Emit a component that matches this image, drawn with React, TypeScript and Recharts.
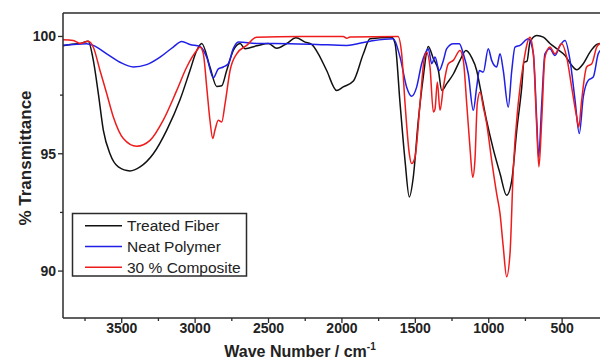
import React from "react"
import { LineChart, Line, XAxis, YAxis, ReferenceLine } from "recharts"

// [wave number, % transmittance]
const treatedFiber: [number, number][] = [
    [3900, 99.6], [3852, 99.66], [3784, 99.7], [3728, 99.8], [3694, 99.0], [3660, 97.6],
    [3625, 96.0], [3580, 95.0], [3523, 94.44], [3444, 94.27], [3375, 94.44], [3285, 95.0],
    [3194, 96.0], [3103, 97.3], [3035, 98.55], [2989, 99.4], [2955, 99.7], [2899, 98.7],
    [2853, 97.87], [2819, 97.9], [2785, 98.55], [2740, 99.4], [2694, 99.7], [2660, 99.48],
    [2580, 99.6], [2501, 99.7], [2444, 99.5], [2376, 99.7], [2313, 99.94], [2251, 99.76],
    [2206, 99.66], [2161, 99.26], [2104, 98.55], [2036, 97.7], [1991, 97.85], [1922, 98.1],
    [1854, 99.26], [1809, 99.9], [1661, 99.97], [1638, 99.7], [1604, 97.15], [1570, 94.7],
    [1541, 93.16], [1514, 94.0], [1480, 96.4], [1446, 98.27], [1412, 99.57], [1377, 99.05],
    [1343, 98.55], [1320, 97.7], [1286, 97.99], [1241, 98.4], [1196, 98.98], [1155, 99.4],
    [1116, 99.1], [1082, 98.55], [1059, 97.84], [1014, 96.4], [969, 95.2], [923, 94.16],
    [878, 93.23], [843, 93.87], [809, 96.0], [775, 97.84], [760, 98.9], [739, 98.95],
    [719, 99.76], [673, 100.04], [628, 99.97], [583, 99.7], [537, 99.48], [480, 99.19],
    [435, 98.77], [401, 98.58], [356, 98.84], [310, 99.33], [264, 99.66], [242, 99.7],
]

const neatPolymer: [number, number][] = [
    [3900, 99.62], [3739, 99.69], [3694, 99.62], [3602, 99.26], [3512, 98.9], [3421, 98.7],
    [3330, 98.8], [3239, 99.12], [3149, 99.55], [3091, 99.79], [3035, 99.66], [2967, 99.57],
    [2921, 99.12], [2876, 98.24], [2842, 98.62], [2808, 98.7], [2774, 98.84], [2740, 99.48],
    [2706, 99.76], [2580, 99.7], [2354, 99.69], [2172, 99.66], [1967, 99.62], [1809, 99.8],
    [1650, 99.9], [1604, 99.12], [1559, 97.84], [1525, 97.45], [1491, 97.84], [1457, 98.84],
    [1434, 99.26], [1412, 99.48], [1388, 98.84], [1366, 99.12], [1337, 98.55], [1309, 98.98],
    [1286, 99.48], [1241, 99.69], [1200, 99.69], [1173, 99.26], [1139, 98.4], [1105, 96.85],
    [1082, 97.84], [1064, 98.55], [1037, 98.48], [1003, 99.48], [980, 98.98], [946, 98.7],
    [923, 99.26], [901, 98.55], [867, 96.99], [843, 98.55], [821, 99.55], [787, 99.62],
    [730, 99.9], [696, 99.26], [673, 96.43], [660, 94.86], [639, 97.14], [617, 99.26],
    [583, 99.48], [549, 99.19], [514, 99.62], [480, 99.83], [446, 98.98], [412, 97.28],
    [383, 95.86], [356, 97.42], [322, 98.13], [288, 98.27], [254, 99.26], [242, 99.4],
]

const composite30: [number, number][] = [
    [3900, 99.86], [3830, 99.83], [3784, 99.7], [3728, 99.8], [3694, 99.55], [3648, 98.55],
    [3602, 97.56], [3557, 96.57], [3489, 95.65], [3398, 95.32], [3307, 95.57], [3217, 96.43],
    [3125, 97.7], [3057, 98.7], [2989, 99.4], [2967, 99.55], [2944, 99.26], [2921, 97.84],
    [2899, 96.43], [2880, 95.65], [2865, 96.0], [2842, 96.43], [2819, 96.35], [2796, 97.14],
    [2762, 98.55], [2717, 99.26], [2649, 99.62], [2580, 99.97], [2286, 100.0], [1991, 100.0],
    [1967, 99.92], [1945, 99.98], [1618, 100.0], [1593, 99.26], [1570, 97.14], [1541, 95.0],
    [1525, 94.58], [1502, 94.86], [1468, 97.14], [1441, 98.98], [1423, 99.33], [1400, 98.7],
    [1377, 96.78], [1366, 96.9], [1350, 98.06], [1332, 96.85], [1309, 97.84], [1275, 98.84],
    [1241, 98.98], [1196, 99.4], [1173, 98.98], [1150, 97.14], [1128, 95.29], [1109, 94.0],
    [1094, 94.72], [1078, 97.14], [1059, 97.63], [1037, 96.99], [1014, 96.28], [980, 94.72],
    [946, 93.3], [923, 92.45], [901, 91.03], [878, 89.76], [855, 90.75], [833, 94.3],
    [799, 97.14], [764, 98.84], [719, 99.97], [696, 99.26], [673, 96.14], [658, 94.44],
    [639, 96.43], [617, 99.12], [583, 99.55], [549, 99.26], [503, 99.69], [469, 99.12],
    [435, 97.84], [401, 96.57], [387, 96.14], [367, 97.28], [333, 98.7], [298, 98.84],
    [264, 99.55], [242, 99.7],
]

const xTicks = [3750, 3500, 3250, 3000, 2750, 2500, 2250, 2000, 1750, 1500, 1250, 1000, 750, 500]
const yTicks = [90, 92.5, 95, 97.5, 100]

const series = [
    { name: "Treated Fiber", color: "#111111", points: treatedFiber },
    { name: "Neat Polymer", color: "#1f1fe8", points: neatPolymer },
    { name: "30 % Composite", color: "#ee1c1c", points: composite30 },
]

const font = "'Liberation Sans', Arial, sans-serif"
const axisColor = "#2b2b2b"

function XTick(props: any) {
    const { x, y, payload } = props
    const major = payload.value % 500 === 0
    return (
        <g>
            <line x1={x} x2={x} y1={y} y2={y + (major ? 5 : 3)} stroke={axisColor} strokeWidth={1.3} />
            {major && (
                <text x={x} y={y + 15} textAnchor="middle" fontSize={14} fontWeight="bold" fill="#222" fontFamily={font}>
                    {payload.value}
                </text>
            )}
        </g>
    )
}

function YTick(props: any) {
    const { x, y, payload } = props
    const major = payload.value % 5 === 0
    return (
        <g>
            <line x1={x} x2={x - (major ? 5 : 3)} y1={y} y2={y} stroke={axisColor} strokeWidth={1.3} />
            {major && (
                <text x={x - 7} y={y + 5} textAnchor="end" fontSize={14} fontWeight="bold" fill="#222" fontFamily={font}>
                    {payload.value}
                </text>
            )}
        </g>
    )
}

export default function App() {
    return (
        <div style={{ position: "absolute", left: 0, top: 0, width: 600, height: 361, overflow: "hidden", background: "#fff", fontFamily: font }}>
            <LineChart width={600} height={361} margin={{ top: 13, right: 0, bottom: 0, left: 0 }}>
                <XAxis
                    type="number"
                    dataKey="wn"
                    domain={[242, 3900]}
                    reversed
                    allowDataOverflow
                    ticks={xTicks}
                    interval={0}
                    height={43}
                    tickSize={0}
                    tickMargin={0}
                    tickLine={false}
                    tick={<XTick />}
                    axisLine={{ stroke: axisColor, strokeWidth: 1.5 }}
                />
                <YAxis
                    type="number"
                    domain={[88, 101]}
                    allowDataOverflow
                    ticks={yTicks}
                    interval={0}
                    width={63}
                    tickSize={0}
                    tickMargin={0}
                    tickLine={false}
                    tick={<YTick />}
                    axisLine={{ stroke: axisColor, strokeWidth: 1.5 }}
                />
                <ReferenceLine y={101} stroke={axisColor} strokeWidth={1.5} ifOverflow="visible" />
                {series.map((s) => (
                    <Line
                        key={s.name}
                        name={s.name}
                        data={s.points.map(([wn, t]) => ({ wn, t }))}
                        dataKey="t"
                        type="monotone"
                        stroke={s.color}
                        strokeWidth={1.5}
                        dot={false}
                        activeDot={false}
                        isAnimationActive={false}
                    />
                ))}
            </LineChart>
            <svg width={600} height={361} style={{ position: "absolute", left: 0, top: 0, pointerEvents: "none" }}>
                <text x={25} y={158} transform="rotate(-90 25 158)" textAnchor="middle" dominantBaseline="central" fontSize={17} fontWeight="bold" fill="#222" fontFamily={font}>
                    % Transmittance
                </text>
                <text x={300} y={357} textAnchor="middle" fontSize={16} fontWeight="bold" fill="#222" fontFamily={font}>
                    Wave Number / cm<tspan dy={-7} fontSize={10}>-1</tspan>
                </text>
                <rect x={72.5} y={213.5} width={174} height={62.5} fill="#fff" stroke={axisColor} strokeWidth={1.5} />
                {series.map((s, i) => (
                    <g key={s.name}>
                        <line x1={85} x2={122} y1={225.7 + i * 20.8} y2={225.7 + i * 20.8} stroke={s.color} strokeWidth={1.5} />
                        <text x={127} y={231 + i * 20.8} fontSize={15.5} fill="#222" fontFamily={font}>
                            {s.name}
                        </text>
                    </g>
                ))}
            </svg>
        </div>
    )
}
